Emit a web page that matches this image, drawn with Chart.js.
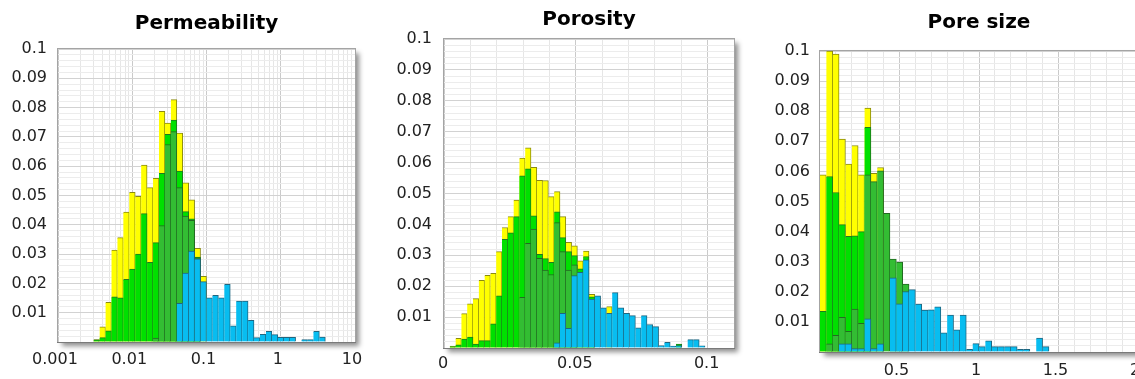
<!DOCTYPE html>
<html>
<head>
<meta charset="utf-8">
<script src="https://cdn.jsdelivr.net/npm/chart.js@4.4.1/dist/chart.umd.min.js"></script>
<style>
    body { margin: 0; background: #fff; width: 1135px; height: 379px; overflow: hidden; position: relative; }
    .panel { position: absolute; top: 0; }
</style>
</head>
<body>
<div class="panel" style="left:0px"><canvas id="permChart" width="413" height="379"></canvas></div>
<div class="panel" style="left:384px"><canvas id="poroChart" width="410" height="379"></canvas></div>
<div class="panel" style="left:758px"><canvas id="poreChart" width="442" height="379"></canvas></div>
<script>
// Each histogram has 50 bins spread over the whole x range
const binCount = 50;

// Permeability (log x axis, 0.001 .. 10)
const permRange = [0.001, 10];
const permXTicks = [0.001, 0.01, 0.1, 1, 10];
const permXLabels = ['0.001', '0.01', '0.1', '1', '10'];
const permYellow = [
    0, 0, 0, 0, 0, 0, 0.0008, 0.0052, 0.0135, 0.0314,
    0.0356, 0.0443, 0.0511, 0.0497, 0.0604, 0.0527, 0.0559, 0.0787, 0.0747, 0.0827,
    0.0713, 0.0543, 0.0485, 0.0320, 0.0224, 0, 0, 0, 0, 0,
    0, 0, 0, 0, 0, 0, 0, 0, 0, 0,
    0, 0, 0, 0, 0, 0, 0, 0, 0, 0
];
const permGreen = [
    0, 0, 0, 0, 0, 0, 0.0007, 0.0015, 0.0038, 0.0154,
    0.0151, 0.0214, 0.0249, 0.0300, 0.0438, 0.0272, 0.0339, 0.0576, 0.0709, 0.0757,
    0.0583, 0.0445, 0.0420, 0.0290, 0, 0, 0, 0, 0, 0,
    0, 0, 0, 0, 0, 0, 0, 0, 0, 0,
    0, 0, 0, 0, 0, 0, 0, 0, 0, 0
];
const permDark = [
    0, 0, 0, 0, 0, 0, 0, 0, 0, 0,
    0, 0, 0, 0, 0, 0, 0.0013, 0.0397, 0.0674, 0.0718,
    0.0527, 0.0430, 0.0415, 0.0287, 0, 0, 0, 0, 0, 0,
    0, 0, 0, 0, 0, 0, 0, 0, 0, 0,
    0, 0, 0, 0, 0, 0, 0, 0, 0, 0
];
const permBlue = [
    0, 0, 0, 0, 0, 0, 0, 0, 0, 0,
    0, 0, 0, 0, 0, 0, 0, 0, 0, 0,
    0.0132, 0.0235, 0.0310, 0.0284, 0.0206, 0.0151, 0.0159, 0.0151, 0.0197, 0.0055,
    0.0140, 0.0140, 0.0074, 0.0015, 0.0026, 0.0036, 0.0025, 0.0016, 0.0016, 0.0016,
    0, 0.0008, 0.0008, 0.0036, 0.0017, 0, 0, 0, 0, 0
];

// Porosity (0 .. 0.11)
const poroRange = [0, 0.11];
const poroXTicks = [0, 0.05, 0.1];
const poroXLabels = ['0', '0.05', '0.1'];
const poroYellow = [
    0, 0.0006, 0.0031, 0.0111, 0.0143, 0.0160, 0.0219, 0.0235, 0.0242, 0.0312,
    0.0390, 0.0425, 0.0479, 0.0615, 0.0648, 0.0585, 0.0543, 0.0542, 0.0490, 0.0506,
    0.0425, 0.0342, 0.0331, 0.0282, 0.0314, 0.0174, 0, 0, 0.0134, 0,
    0, 0, 0, 0, 0, 0, 0, 0, 0, 0,
    0, 0, 0, 0, 0, 0, 0, 0, 0, 0
];
const poroGreen = [
    0, 0.0005, 0.0010, 0.0029, 0.0035, 0.0013, 0.0024, 0.0024, 0.0078, 0.0169,
    0.0352, 0.0373, 0.0425, 0.0557, 0.0580, 0.0428, 0.0303, 0.0289, 0.0277, 0.0441,
    0.0357, 0.0312, 0.0299, 0.0256, 0.0296, 0.0166, 0, 0, 0, 0,
    0, 0, 0, 0, 0, 0, 0, 0, 0, 0,
    0.0013, 0, 0, 0, 0, 0, 0, 0, 0, 0
];
const poroDark = [
    0, 0, 0, 0, 0, 0, 0, 0, 0, 0,
    0, 0, 0, 0.0164, 0.0339, 0.0385, 0.0290, 0.0252, 0.0238, 0.0406,
    0.0312, 0.0252, 0.0269, 0, 0, 0, 0, 0, 0, 0,
    0, 0, 0, 0, 0, 0, 0, 0, 0, 0,
    0, 0, 0, 0, 0, 0, 0, 0, 0, 0
];
const poroBlue = [
    0, 0, 0, 0, 0, 0, 0, 0, 0, 0,
    0, 0, 0, 0, 0, 0, 0, 0, 0, 0.0017,
    0.0112, 0.0064, 0.0234, 0.0245, 0.0285, 0.0158, 0.0169, 0.0130, 0.0112, 0.0179,
    0.0130, 0.0112, 0.0105, 0.0065, 0.0105, 0.0076, 0.0069, 0.0008, 0.0018, 0.0006,
    0.0008, 0, 0.0027, 0.0027, 0.0007, 0, 0, 0, 0, 0
];

// Pore size (0 .. 2)
const poreRange = [0, 2];
const poreXTicks = [0.5, 1, 1.5, 2];
const poreXLabels = ['0.5', '1', '1.5', '2'];
const poreYellow = [
    0.0589, 0.1000, 0.0990, 0.0707, 0.0624, 0.0686, 0.0589, 0.0810, 0.0594, 0.0613,
    0, 0, 0, 0, 0, 0, 0, 0, 0, 0,
    0, 0, 0, 0, 0, 0, 0, 0, 0, 0,
    0, 0, 0, 0, 0, 0, 0, 0, 0, 0,
    0, 0, 0, 0, 0, 0, 0, 0, 0, 0
];
const poreGreen = [
    0.0135, 0.0583, 0.0530, 0.0423, 0.0384, 0.0386, 0.0400, 0.0746, 0, 0,
    0, 0, 0, 0, 0, 0, 0, 0, 0, 0,
    0, 0, 0, 0, 0, 0, 0, 0, 0, 0,
    0, 0, 0, 0, 0, 0, 0, 0, 0, 0,
    0, 0, 0, 0, 0, 0, 0, 0, 0, 0
];
const poreDark = [
    0, 0.0027, 0.0055, 0.0115, 0.0069, 0.0143, 0.0095, 0.0589, 0.0566, 0.0602,
    0.0461, 0.0309, 0.0299, 0.0226, 0, 0, 0, 0, 0, 0,
    0, 0, 0, 0, 0, 0, 0, 0, 0, 0,
    0, 0, 0, 0, 0, 0, 0, 0, 0, 0,
    0, 0, 0, 0, 0, 0, 0, 0, 0, 0
];
const poreBlue = [
    0, 0, 0, 0.0027, 0.0027, 0.0011, 0.0011, 0.0110, 0.0011, 0.0027,
    0, 0.0246, 0.0160, 0.0201, 0.0207, 0.0159, 0.0139, 0.0140, 0.0150, 0.0064,
    0.0123, 0.0074, 0.0123, 0.0009, 0.0028, 0.0018, 0.0037, 0.0018, 0.0018, 0.0018,
    0.0018, 0.0009, 0.0009, 0, 0.0046, 0.0018, 0, 0, 0, 0,
    0, 0, 0, 0, 0, 0, 0, 0, 0, 0
];

// Shared y axis (0 .. 0.1)
const yTicks = [0.01, 0.02, 0.03, 0.04, 0.05, 0.06, 0.07, 0.08, 0.09, 0.1];
const yLabels = ['0.01', '0.02', '0.03', '0.04', '0.05', '0.06', '0.07', '0.08', '0.09', '0.1'];

Chart.defaults.font.family = "'DejaVu Sans', Verdana, sans-serif";
Chart.defaults.font.size = 16;
Chart.defaults.color = '#222';

// white plot area with a drop shadow, and a grey frame on top
const plotFrame = {
    id: 'plotFrame',
    beforeDraw(chart) {
        const { ctx, chartArea: a } = chart;
        ctx.save();
        ctx.fillStyle = '#fff';
        ctx.shadowColor = 'rgba(0,0,0,0.45)';
        ctx.shadowBlur = 5;
        ctx.shadowOffsetX = 4;
        ctx.shadowOffsetY = 4;
        ctx.fillRect(a.left, a.top, a.right - a.left, a.bottom - a.top);
        ctx.restore();
    },
    afterDatasetsDraw(chart) {
        const { ctx, chartArea: a } = chart;
        ctx.save();
        ctx.lineWidth = 1;
        ctx.strokeStyle = '#a4a4a4';
        ctx.strokeRect(a.left - 0.5, a.top - 0.5, a.right - a.left + 1, a.bottom - a.top + 1);
        ctx.strokeStyle = '#7a7a7a';
        ctx.beginPath();
        ctx.moveTo(a.left - 1, a.bottom + 0.5);
        ctx.lineTo(a.right + 1, a.bottom + 0.5);
        ctx.stroke();
        ctx.restore();
    }
};

function binCenters(range, log) {
    const lo = log ? Math.log10(range[0]) : range[0];
    const hi = log ? Math.log10(range[1]) : range[1];
    const w = (hi - lo) / binCount;
    const out = [];
    for (let i = 0; i < binCount; i++) {
        const c = lo + (i + 0.5) * w;
        out.push(log ? Math.pow(10, c) : c);
    }
    return out;
}

function series(centers, values) {
    return values.map((v, i) => ({ x: centers[i], y: v > 0 ? v : null }));
}

function makeHistogram(id, o) {
    const centers = binCenters(o.range, o.log);
    const bar = (label, values, fill, edge) => ({
        label: label,
        data: series(centers, values),
        backgroundColor: fill,
        borderColor: edge,
        borderWidth: { top: 1, right: 1, left: 0, bottom: 0 },
        grouped: false,
        barPercentage: 1,
        categoryPercentage: 1
    });

    // minor grid positions (no labels)
    const minor = [];
    if (o.log) {
        for (let e = -3; e < 1; e++) {
            for (let d = 2; d <= 9; d++) minor.push(d * Math.pow(10, e));
        }
    } else {
        for (let i = 1; i * o.minorStep <= o.range[1] + 1e-9; i++) {
            const v = i * o.minorStep;
            if (!o.xTicks.some(t => Math.abs(t - v) < 1e-9)) minor.push(v);
        }
    }
    const yGrid = [];
    for (let i = 0; i <= 50; i++) yGrid.push(i / 500);

    new Chart(document.getElementById(id), {
        type: 'bar',
        data: {
            // first dataset is drawn on top
            datasets: [
                bar('blue', o.blue, '#08bdf0', '#1f6680'),
                bar('dark green', o.dark, '#33bd33', '#226a22'),
                bar('green', o.green, '#00e000', '#1f7a1f'),
                bar('yellow', o.yellow, '#ffff00', '#8a8a10')
            ]
        },
        options: {
            responsive: false,
            animation: false,
            events: [],
            layout: { padding: 0 },
            plugins: {
                legend: { display: false },
                tooltip: { enabled: false },
                title: {
                    display: true,
                    text: o.title,
                    color: '#000',
                    font: { size: 20, weight: 'bold' },
                    padding: { top: o.titleTop, bottom: o.titleBottom }
                }
            },
            scales: {
                x: {
                    type: o.log ? 'logarithmic' : 'linear',
                    min: o.range[0],
                    max: o.range[1],
                    offset: false,
                    grid: { offset: false, color: '#cacaca', drawTicks: false },
                    border: { display: false },
                    afterBuildTicks: s => { s.ticks = o.xTicks.map(v => ({ value: v })); },
                    afterFit: s => { s.height = o.xHeight; },
                    ticks: {
                        autoSkip: false,
                        maxRotation: 0,
                        padding: o.xPad,
                        labelOffset: o.xShift,
                        callback: (v, i) => o.xLabels[i]
                    }
                },
                xMinor: {
                    type: o.log ? 'logarithmic' : 'linear',
                    position: 'bottom',
                    min: o.range[0],
                    max: o.range[1],
                    offset: false,
                    grid: { offset: false, color: '#e6e6e6', drawTicks: false },
                    border: { display: false },
                    ticks: { display: false },
                    afterBuildTicks: s => { s.ticks = minor.map(v => ({ value: v })); },
                    afterFit: s => { s.height = 0; }
                },
                y: {
                    min: 0,
                    max: 0.1,
                    grid: {
                        drawTicks: false,
                        color: c => (c.index % 5 === 0 ? '#d2d2d2' : '#ececec')
                    },
                    border: { display: false },
                    afterBuildTicks: s => { s.ticks = yGrid.map(v => ({ value: v })); },
                    afterFit: s => { s.width = o.yWidth; },
                    ticks: {
                        autoSkip: false,
                        padding: o.yPad,
                        callback: (v, i) => (i % 5 === 0 && i > 0 ? yLabels[i / 5 - 1] : '')
                    }
                },
                // empty right axis keeps the title centred over the plot
                yRight: {
                    position: 'right',
                    grid: { display: false },
                    border: { display: false },
                    ticks: { display: false },
                    afterFit: s => { s.width = o.yWidth; }
                }
            }
        },
        plugins: [plotFrame]
    });
}

makeHistogram('permChart', {
    title: 'Permeability', log: true, range: permRange,
    xTicks: permXTicks, xLabels: permXLabels,
    yellow: permYellow, green: permGreen, dark: permDark, blue: permBlue,
    yWidth: 58, yPad: 11, xHeight: 37, xPad: 8, xShift: -3, titleTop: 12, titleBottom: 13
});

makeHistogram('poroChart', {
    title: 'Porosity', log: false, range: poroRange, minorStep: 0.01,
    xTicks: poroXTicks, xLabels: poroXLabels,
    yellow: poroYellow, green: poroGreen, dark: poroDark, blue: poroBlue,
    yWidth: 60, yPad: 12, xHeight: 31, xPad: 6, xShift: -1, titleTop: 8, titleBottom: 7
});

makeHistogram('poreChart', {
    title: 'Pore size', log: false, range: poreRange, minorStep: 0.1,
    xTicks: poreXTicks, xLabels: poreXLabels,
    yellow: poreYellow, green: poreGreen, dark: poreDark, blue: poreBlue,
    yWidth: 62, yPad: 10, xHeight: 27, xPad: 9, xShift: -3, titleTop: 11, titleBottom: 16
});
</script>
</body>
</html>
